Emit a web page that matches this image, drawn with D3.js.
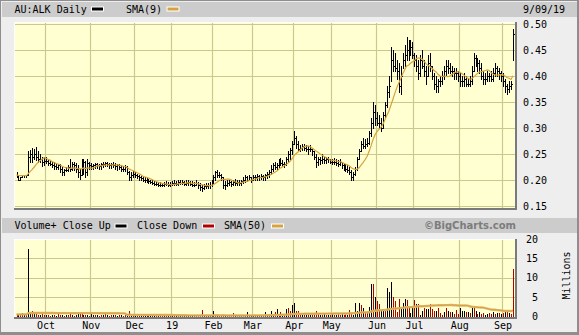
<!DOCTYPE html>
<html><head><meta charset="utf-8">
<script src="https://cdn.jsdelivr.net/npm/d3@7"></script>
<style>
html,body{margin:0;padding:0;background:#fff;}
svg{display:block;}
text{font-family:"DejaVu Sans Mono",monospace;font-size:10px;fill:#000;}
</style>
</head><body>
<svg id="c" width="579" height="335"></svg>
<script>
// ---- DATA (trading-day series, AU:ALK daily, Sep 2018 - 9 Sep 2019) ----
const highs = [
/*Sep*/ .215,.21,.206,.21,.21,.21,.255,.258,.262,.26,.264,.255,.25,.245,.245,
/*Oct*/ .245,.24,.238,.235,.235,.232,.23,.23,.225,.222,.225,.228,.24,.235,.235,.232,.228,.222,.24,.24,.236,.24,.235,
/*Nov*/ .232,.23,.232,.232,.23,.232,.234,.234,.235,.232,.232,.235,.232,.23,.23,.228,.226,.228,.226,.218,.215,.218,
/*Dec*/ .215,.212,.21,.208,.206,.205,.204,.202,.2,.2,.198,.197,.196,.196,.195,.196,.198,.196,.196,
/*Jan*/ .198,.2,.198,.2,.2,.2,.198,.2,.2,.198,.198,.196,.2,.196,.194,.19,.192,.195,.194,.196,.2,
/*Feb*/ .21,.218,.22,.215,.212,.205,.198,.2,.2,.198,.2,.202,.2,.2,.2,.205,.21,.208,.21,.206,
/*Mar*/ .21,.21,.212,.21,.212,.21,.212,.215,.22,.228,.232,.235,.232,.24,.242,.238,.235,.245,.255,.262,.275,
/*Apr*/ .295,.285,.275,.268,.27,.27,.268,.265,.268,.262,.255,.25,.245,.245,.25,.245,.245,.245,.24,
/*May*/ .24,.242,.24,.238,.24,.235,.232,.23,.228,.225,.22,.215,.225,.245,.26,.275,.28,.278,.28,.295,.32,.35,.345,
/*Jun*/ .33,.325,.32,.33,.35,.38,.4,.455,.45,.445,.43,.425,.42,.445,.46,.475,.47,.47,.465,
/*Jul*/ .445,.44,.43,.44,.45,.43,.42,.44,.445,.42,.405,.4,.395,.4,.41,.42,.43,.43,.425,.42,.415,.415,.41,
/*Aug*/ .405,.4,.405,.4,.395,.4,.42,.445,.44,.435,.43,.425,.41,.405,.41,.405,.41,.415,.425,.42,.415,.41,
/*Sep*/ .405,.395,.385,.39,.39,.49
];
const lows = [
/*Sep*/ .206,.20,.20,.205,.205,.205,.21,.235,.235,.24,.238,.235,.234,.226,.228,
/*Oct*/ .232,.228,.228,.225,.222,.222,.222,.215,.21,.21,.218,.218,.218,.22,.22,.215,.205,.202,.21,.212,.205,.21,.222,
/*Nov*/ .222,.222,.224,.224,.222,.222,.225,.226,.226,.224,.224,.225,.222,.22,.222,.218,.218,.218,.212,.20,.20,.205,
/*Dec*/ .205,.204,.2,.2,.198,.197,.196,.194,.194,.192,.19,.19,.188,.188,.188,.188,.19,.188,.188,
/*Jan*/ .19,.19,.19,.19,.192,.192,.19,.19,.19,.19,.188,.188,.19,.185,.18,.178,.182,.185,.184,.185,.188,
/*Feb*/ .195,.2,.205,.205,.2,.185,.182,.188,.19,.188,.19,.19,.19,.19,.19,.194,.196,.198,.2,.196,
/*Mar*/ .2,.2,.2,.2,.202,.2,.2,.204,.205,.212,.218,.222,.222,.225,.228,.226,.225,.228,.235,.24,.25,
/*Apr*/ .27,.262,.255,.255,.258,.258,.256,.25,.255,.248,.24,.225,.228,.23,.232,.232,.232,.235,.232,
/*May*/ .23,.23,.228,.226,.228,.224,.22,.218,.215,.212,.2,.2,.21,.22,.24,.255,.262,.262,.265,.27,.285,.3,.305,
/*Jun*/ .305,.3,.295,.3,.32,.34,.36,.39,.41,.41,.395,.37,.365,.415,.42,.43,.43,.44,.435,
/*Jul*/ .42,.41,.395,.4,.415,.4,.385,.4,.41,.395,.375,.37,.37,.38,.385,.395,.4,.405,.405,.4,.395,.395,.39,
/*Aug*/ .38,.38,.38,.38,.38,.38,.385,.41,.42,.41,.405,.395,.385,.385,.39,.39,.39,.39,.4,.4,.395,.39,
/*Sep*/ .38,.37,.365,.37,.375,.43
];
const closes = [
/*Sep*/ .21,.20,.205,.21,.21,.21,.245,.25,.245,.25,.245,.24,.24,.235,.236,
/*Oct*/ .236,.232,.23,.228,.226,.225,.228,.222,.215,.22,.22,.225,.222,.23,.228,.222,.215,.21,.222,.235,.215,.232,.228,
/*Nov*/ .226,.228,.23,.228,.226,.23,.23,.232,.23,.228,.23,.228,.226,.228,.225,.222,.222,.225,.215,.205,.21,.212,
/*Dec*/ .21,.208,.205,.204,.2,.2,.198,.198,.196,.195,.192,.192,.19,.19,.19,.192,.192,.19,.192,
/*Jan*/ .194,.195,.192,.196,.195,.196,.192,.195,.196,.192,.19,.19,.195,.19,.186,.185,.188,.188,.19,.19,.195,
/*Feb*/ .205,.215,.21,.21,.205,.19,.19,.195,.196,.192,.196,.195,.196,.195,.198,.2,.205,.2,.205,.2,
/*Mar*/ .205,.206,.208,.206,.208,.205,.21,.212,.215,.222,.228,.225,.228,.235,.232,.23,.23,.24,.25,.258,.27,
/*Apr*/ .28,.27,.26,.262,.265,.262,.26,.26,.26,.255,.245,.235,.24,.238,.24,.238,.24,.24,.235,
/*May*/ .235,.235,.232,.23,.235,.228,.225,.222,.22,.215,.205,.212,.222,.24,.255,.27,.265,.27,.272,.29,.31,.33,.32,
/*Jun*/ .31,.31,.3,.325,.345,.37,.38,.43,.42,.415,.41,.38,.4,.43,.44,.45,.44,.455,.44,
/*Jul*/ .43,.42,.405,.43,.42,.41,.4,.425,.42,.4,.385,.38,.39,.39,.4,.41,.42,.415,.41,.41,.405,.405,.4,
/*Aug*/ .39,.39,.395,.385,.385,.39,.41,.435,.43,.425,.415,.4,.395,.395,.4,.4,.395,.405,.415,.41,.405,.4,
/*Sep*/ .39,.38,.375,.38,.385,.48
];
// volume in millions
const volumes = [
/*Sep*/ 0.4,0.6,0.3,0.9,0.3,0.5,17.5,1.1,1.5,0.8,0.6,0.5,0.4,0.6,0.3,
/*Oct*/ 0.3,0.5,0.2,0.4,0.3,0.2,0.6,0.4,0.3,0.2,0.5,0.3,0.8,0.3,0.2,0.4,1.1,1.1,0.6,0.4,0.3,0.5,0.2,
/*Nov*/ 1.0,0.4,0.3,0.5,0.2,0.3,0.4,0.6,0.3,0.2,0.5,0.3,0.4,0.2,0.3,0.5,0.2,0.3,0.4,1.3,0.3,0.2,
/*Dec*/ 0.5,0.2,0.6,0.2,0.1,0.2,0.6,0.3,0.3,0.2,0.1,0.2,0.1,0.2,0.1,0.1,0.2,0.1,0.2,
/*Jan*/ 0.2,0.3,0.1,0.2,0.1,0.2,0.1,0.2,0.1,0.2,0.1,0.2,0.1,0.3,0.5,1.7,0.2,0.1,0.2,0.1,0.3,
/*Feb*/ 1.4,0.5,0.3,0.2,0.2,0.5,0.2,0.1,0.2,0.1,0.8,0.2,0.1,0.2,0.4,0.1,0.2,1.1,0.2,0.1,
/*Mar*/ 0.2,0.2,0.3,0.3,0.2,0.3,1.1,0.3,0.4,1.5,0.5,1.1,1.9,0.4,1.1,0.6,0.5,1.9,2.2,1.3,3.0,
/*Apr*/ 3.5,1.3,1.3,0.4,0.6,0.9,0.4,0.3,0.9,0.4,0.5,1.3,0.9,0.3,0.4,0.8,0.3,0.4,0.3,
/*May*/ 0.6,0.3,0.4,0.7,0.3,0.9,0.4,0.8,0.3,1.7,0.6,0.5,3.6,1.3,3.6,3.0,2.3,0.8,1.3,2.5,8.5,8.5,5.0,
/*Jun*/ 3.9,3.3,2.0,2.0,2.0,7.4,6.3,8.9,5.0,3.9,1.2,4.6,2.4,3.5,4.6,4.2,2.2,1.0,2.3,
/*Jul*/ 4.2,3.1,3.3,0.4,1.3,2.2,2.0,2.0,3.1,2.0,1.5,1.5,2.2,0.8,0.4,1.1,2.2,1.5,1.1,1.1,0.6,1.7,0.7,
/*Aug*/ 2.2,1.5,1.3,1.1,1.1,0.8,2.7,2.2,1.4,0.7,1.1,0.6,0.9,0.4,0.6,0.8,0.6,1.1,0.7,0.9,0.8,0.6,
/*Sep*/ 0.8,1.5,1.5,0.9,0.6,12.3
];
// b = close up, r = close down
const volumeDirection = (
  "rbrrbrbbrbrrbrr" +          // Sep
  "brrbrbrrbrbrrbrbbrrbrbr" +  // Oct
  "bbrbrrbrbrrbrbrbrrbrbr" +   // Nov
  "brrbrbrrbrbrbrrbrbr" +      // Dec
  "brbrbrbrbrbrbrrrbrbrb" +    // Jan
  "brbrrrbrbrrbrbbrbbrb" +     // Feb
  "brbrbrbbrbbrbrrbrbrrb" +    // Mar
  "brrrbrbrbrrrrbrbrbr" +      // Apr
  "brbrrbrrbrrbbbbrbrrbbrb" +  // May
  "rrbbrbbbrrrrbbbrrbb" +      // Jun
  "rbrbbrbbrrrbrrrbrbrbrrr" +  // Jul
  "bbbrbrbrbrbrrbbrrbrbrb" +   // Aug
  "rbrbrr"                     // Sep
).split("");
const priorVolumeAverage = 0.55;   // estimated average volume before the first session shown
const monthLabels = ["Oct","Nov","Dec","19","Feb","Mar","Apr","May","Jun","Jul","Aug","Sep"];
const monthStartIndex = [15,38,60,79,100,120,141,160,183,202,225,247];
const priceTicks = [0.15,0.20,0.25,0.30,0.35,0.40,0.45,0.50];
const volumeTicks = [0,5,10,15,20];
const smaPricePeriod = 9, smaVolumePeriod = 50;

// ---- DERIVED ----
const N = closes.length;
function sma(arr, n, pad){
  return arr.map((_,i)=>{ let s=0; for(let k=i-n+1;k<=i;k++){ s += k>=0 ? arr[k] : pad; } return s/n; });
}
const smaPrice = sma(closes, smaPricePeriod, closes[0]);
const smaVol = sma(volumes, smaVolumePeriod, priorVolumeAverage);

// ---- LAYOUT ----
const svg = d3.select("#c");
const PL=14, PR=515, PT=22, PB=208, VT=239, VB=317;
const x = d3.scaleLinear().domain([-1.27, 253.05]).range([PL, PR]);
const y = d3.scaleLinear().domain([0.15, 0.50]).range([206, 24]);
const yv = d3.scaleLinear().domain([0, 20]).range([316.5, 239]);
const px = i => Math.round(x(i)) + 0.5;

// frame
svg.append("rect").attr("width",579).attr("height",335).attr("fill","#8e8e8e");
svg.append("rect").attr("x",1).attr("y",1).attr("width",576).attr("height",331).attr("fill","#eeeeee");
svg.append("rect").attr("x",2).attr("y",2).attr("width",575).attr("height",15).attr("fill","#cccccc");
svg.append("rect").attr("x",2).attr("y",218).attr("width",575).attr("height",15).attr("fill","#cccccc");

// plot backgrounds
[[PT,PB],[VT,VB]].forEach(([t,b])=>{
  svg.append("rect").attr("x",PL).attr("y",t).attr("width",PR-PL).attr("height",b-t).attr("fill","#ffffd2");
});

// grid
const gridColor = "#c9c98f";
const grid = svg.append("g").attr("stroke",gridColor).attr("stroke-width",1.2);
monthStartIndex.forEach(i=>{
  const gx = Math.round(x(i)) - 0.5;
  grid.append("line").attr("x1",gx).attr("x2",gx).attr("y1",PT).attr("y2",PB);
  grid.append("line").attr("x1",gx).attr("x2",gx).attr("y1",VT).attr("y2",VB);
});
priceTicks.filter(v=>y(v)>PT+1 && y(v)<PB-1).forEach(v=>{
  const gy = Math.round(y(v))+0.5;
  grid.append("line").attr("x1",PL).attr("x2",PR).attr("y1",gy).attr("y2",gy);
});
volumeTicks.filter(v=>yv(v)>VT+1 && yv(v)<VB-1).forEach(v=>{
  const gy = Math.round(yv(v))+0.5;
  grid.append("line").attr("x1",PL).attr("x2",PR).attr("y1",gy).attr("y2",gy);
});

// plot borders (inset look)
function border(t,b){
  const g = svg.append("g").attr("shape-rendering","crispEdges");
  g.append("line").attr("x1",PL).attr("x2",PR).attr("y1",t+0.5).attr("y2",t+0.5).attr("stroke","#ffffff");
  g.append("line").attr("x1",PL+0.5).attr("x2",PL+0.5).attr("y1",t).attr("y2",b).attr("stroke","#ffffff");
  g.append("line").attr("x1",PL).attr("x2",PR+2).attr("y1",b+1).attr("y2",b+1).attr("stroke","#7a7a7a").attr("stroke-width",2);
  g.append("line").attr("x1",PR+1).attr("x2",PR+1).attr("y1",t).attr("y2",b+2).attr("stroke","#7a7a7a").attr("stroke-width",2);
}
border(PT,PB); border(VT,VB);

// price bars (high-low with close tick)
const bars = svg.append("g").attr("stroke","#000").attr("stroke-width",1).attr("fill","none").attr("shape-rendering","crispEdges");
bars.selectAll("path").data(d3.range(N)).join("path")
  .attr("d", i=>{
    const xx = px(i), yh = Math.round(y(highs[i])), yl = Math.round(y(lows[i])), yc = Math.round(y(closes[i]))+0.5;
    return `M${xx},${yh}V${yl+1}M${xx},${yc}H${xx+1.5}`;
  });

// SMA(9)
svg.append("path").datum(smaPrice)
  .attr("fill","none").attr("stroke","#d6a23e").attr("stroke-width",1.2)
  .attr("d", d3.line().x((d,i)=>x(i)).y(d=>y(d)));

// volume bars
const vb = svg.append("g").attr("shape-rendering","crispEdges").attr("stroke-width",1);
vb.selectAll("line").data(d3.range(N)).join("line")
  .attr("x1", i=>px(i)).attr("x2", i=>px(i))
  .attr("y1", VB-0.5).attr("y2", i=>Math.round(yv(volumes[i])))
  .attr("stroke", i=> volumeDirection[i]==="r" ? "#b00000" : "#000000");

// SMA(50) volume
svg.append("path").datum(smaVol)
  .attr("fill","none").attr("stroke","#e2b86a").attr("stroke-width",2.4)
  .attr("d", d3.line().x((d,i)=>x(i)).y(d=>yv(d)));
svg.append("path").datum(smaVol)
  .attr("fill","none").attr("stroke","#cf9a3a").attr("stroke-width",0.8)
  .attr("d", d3.line().x((d,i)=>x(i)).y(d=>yv(d)));

// axes
const pAxis = d3.axisRight(y).tickValues(priceTicks).tickFormat(d3.format(".2f")).tickSize(0).tickPadding(0);
const ga = svg.append("g").attr("transform","translate(523,0)").call(pAxis);
ga.select(".domain").remove();
const vAxis = d3.axisLeft(yv).tickValues(volumeTicks).tickFormat(d3.format("d")).tickSize(0).tickPadding(0);
const gv = svg.append("g").attr("transform","translate(538,0)").call(vAxis);
gv.select(".domain").remove();
const mAxis = d3.axisBottom(x).tickValues(monthStartIndex).tickFormat((d,i)=>monthLabels[i]).tickSize(0).tickPadding(4.5);
const gm = svg.append("g").attr("transform",`translate(-0.5,${VB})`).call(mAxis);
gm.select(".domain").remove();
svg.selectAll(".tick text").attr("font-family",'"DejaVu Sans Mono",monospace').attr("font-size",10).attr("fill","#000");

svg.append("text").attr("transform","translate(570,275.5) rotate(-90)").attr("text-anchor","middle").text("Millions");

// headers / legends
function swatch(xp, yp, color){
  svg.append("rect").attr("x",xp).attr("y",yp).attr("width",12).attr("height",4)
    .attr("fill",color).attr("stroke","#ffffff").attr("stroke-width",1);
}
svg.append("text").attr("x",14.5).attr("y",13).text("AU:ALK Daily");
swatch(91.5,7,"#000000");
svg.append("text").attr("x",126).attr("y",13).text("SMA(9)");
swatch(167,7,"#d6a23e");
svg.append("text").attr("x",523).attr("y",13).text("9/09/19");

svg.append("text").attr("x",14.5).attr("y",229).text("Volume+ Close Up");
swatch(115,224,"#000000");
svg.append("text").attr("x",137).attr("y",229).text("Close Down");
swatch(202.5,224,"#b00000");
svg.append("text").attr("x",224).attr("y",229).text("SMA(50)");
swatch(271.5,224,"#d6a23e");
svg.append("text").attr("x",516).attr("y",229).attr("text-anchor","end")
  .style("font-family",'"DejaVu Sans",sans-serif').style("font-weight","bold").style("font-size","10px")
  .style("fill","#7c7c7c").text("\u00A9BigCharts.com");
</script>
</body></html>
